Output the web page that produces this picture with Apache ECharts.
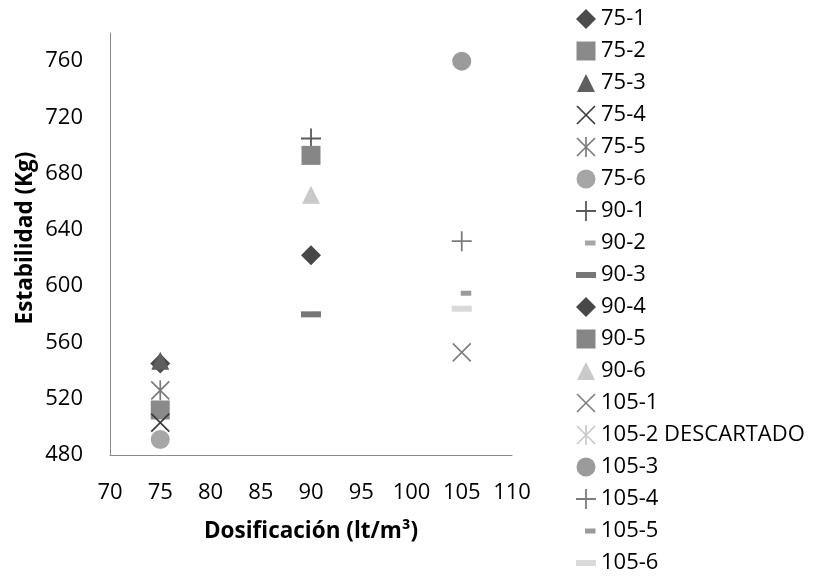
<!DOCTYPE html>
<html>
<head>
<meta charset="utf-8">
<script src="https://cdn.jsdelivr.net/npm/echarts@6/dist/echarts.min.js"></script>
<style>
  html, body { margin: 0; padding: 0; background: #ffffff; }
  #chart { width: 817px; height: 577px; }
</style>
</head>
<body>
<div id="chart"></div>
<script>
// Ensayo Marshall: estabilidad por dosificación
const seriesNames = ['75-1', '75-2', '75-3', '75-4', '75-5', '75-6',
                     '90-1', '90-2', '90-3', '90-4', '90-5', '90-6',
                     '105-1', '105-2 DESCARTADO', '105-3', '105-4', '105-5', '105-6'];
const dosificacion = [75, 75, 75, 75, 75, 75,
                      90, 90, 90, 90, 90, 90,
                      105, 105, 105, 105, 105, 105];
const estabilidad = [545, 512, 547, 503, 526, 491,
                     705, 580, 580, 622, 693, 665,
                     553, null, 760, 632, 595, 584];
const xTicks = [70, 75, 80, 85, 90, 95, 100, 105, 110];
const yTicks = [480, 520, 560, 600, 640, 680, 720, 760];

// marker shapes, all filled, drawn in a 20x20 frame (the two leading moveTo points fix the frame)
const FRAME = 'M0,0 M20,20 ';
const shapes = {
  diamond:  'M10,0 L20,10 L10,20 L0,10 Z',
  square:   'M0.5,0.5 L19.5,0.5 L19.5,19.5 L0.5,19.5 Z',
  triangle: 'M10,1 L19,19 L1,19 Z',
  cross:    'M1.6,0.4 L19.6,18.4 L18.4,19.6 L0.4,1.6 Z M18.4,0.4 L19.6,1.6 L1.6,19.6 L0.4,18.4 Z',
  star:     'M1.6,0.4 L19.6,18.4 L18.4,19.6 L0.4,1.6 Z M18.4,0.4 L19.6,1.6 L1.6,19.6 L0.4,18.4 Z ' +
            'M9.15,0 L10.85,0 L10.85,20 L9.15,20 Z',
  circle:   'M0.5,10 A9.5,9.5 0 1 1 19.5,10 A9.5,9.5 0 1 1 0.5,10 Z',
  plus:     'M9.1,0 L10.9,0 L10.9,20 L9.1,20 Z M0,9.1 L20,9.1 L20,10.9 L0,10.9 Z',
  shortDash:'M9,7.5 L19.5,7.5 L19.5,12.5 L9,12.5 Z',
  longDash: 'M0,7 L20,7 L20,13 L0,13 Z'
};
const markerKind = ['diamond', 'square', 'triangle', 'cross', 'star', 'circle',
                    'plus', 'shortDash', 'longDash', 'diamond', 'square', 'triangle',
                    'cross', 'star', 'circle', 'plus', 'shortDash', 'longDash'];
const markerColor = ['#4b4b4b', '#8a8a8a', '#5e5e5e', '#3c3c3c', '#7c7c7c', '#a6a6a6',
                     '#5a5a5a', '#a6a6a6', '#777777', '#484848', '#868686', '#c9c9c9',
                     '#808080', '#c9c9c9', '#9b9b9b', '#7c7c7c', '#9a9a9a', '#d9d9d9'];

const FONT = '"Open Sans", "Liberation Sans", sans-serif';

const series = seriesNames.map((name, i) => ({
  name: name,
  type: 'scatter',
  symbol: 'path://' + FRAME + shapes[markerKind[i]],
  symbolSize: 20,
  symbolKeepAspect: true,
  itemStyle: { color: markerColor[i], borderWidth: 0, opacity: 1 },
  emphasis: { disabled: true },
  data: estabilidad[i] == null ? [] : [[dosificacion[i], estabilidad[i]]]
}));

const chart = echarts.init(document.getElementById('chart'), null, { renderer: 'canvas' });
chart.setOption({
  animation: false,
  backgroundColor: '#ffffff',
  textStyle: { fontFamily: FONT },
  grid: { left: 110, right: 305, top: 33, bottom: 122, containLabel: false },
  xAxis: {
    type: 'value',
    min: xTicks[0],
    max: xTicks[xTicks.length - 1],
    interval: 5,
    name: 'Dosificación (lt/m³)',
    nameLocation: 'middle',
    nameGap: 65,
    nameTextStyle: { fontFamily: FONT, fontSize: 22.5, fontWeight: 'bold', color: '#000000' },
    axisLine: { show: true, lineStyle: { color: '#898989', width: 1 } },
    axisTick: { show: false },
    splitLine: { show: false },
    axisLabel: { fontFamily: FONT, fontSize: 22, color: '#000000', margin: 27 }
  },
  yAxis: {
    type: 'value',
    min: yTicks[0],
    max: 780,
    interval: 40,
    name: 'Estabilidad (Kg)',
    nameLocation: 'middle',
    nameGap: 73,
    nameRotate: 90,
    nameTextStyle: { fontFamily: FONT, fontSize: 22.5, fontWeight: 'bold', color: '#000000', padding: [0, 0, 0, 12] },
    axisLine: { show: true, lineStyle: { color: '#898989', width: 1 } },
    axisTick: { show: false },
    splitLine: { show: false },
    axisLabel: { fontFamily: FONT, fontSize: 22, color: '#000000', margin: 27, showMaxLabel: false }
  },
  legend: {
    orient: 'vertical',
    left: 576,
    top: 8,
    height: 569,
    itemWidth: 20,
    itemHeight: 20,
    itemGap: 10,
    selectedMode: false,
    padding: 0,
    textStyle: { fontFamily: FONT, fontSize: 22, color: '#000000', lineHeight: 20 },
    data: seriesNames
  },
  series: series
});
</script>
</body>
</html>
